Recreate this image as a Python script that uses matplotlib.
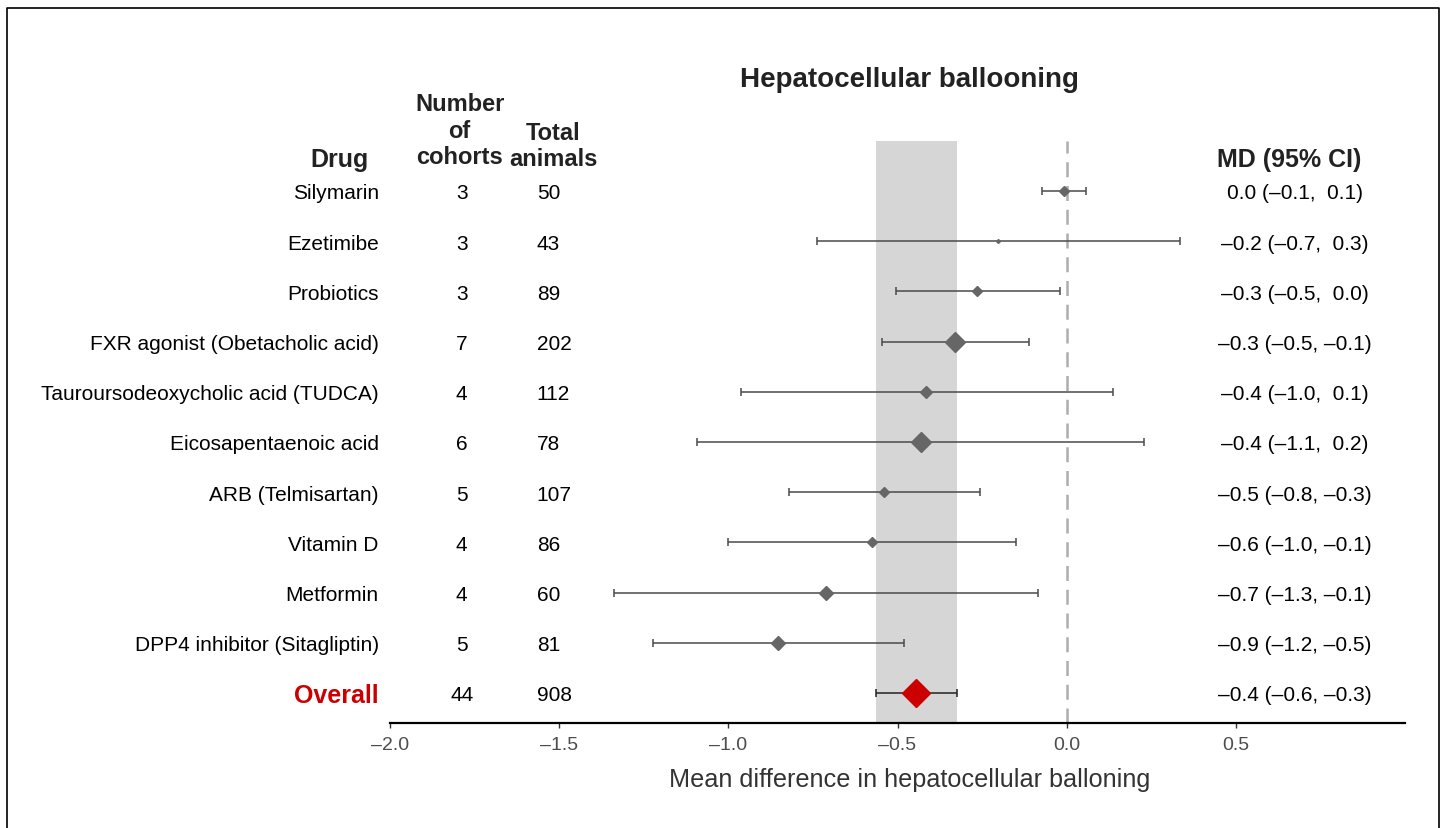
import matplotlib
matplotlib.use("Agg")
import matplotlib.pyplot as plt
from matplotlib.lines import Line2D

plt.rcParams['font.family'] = ['Liberation Sans', 'DejaVu Sans']

# ---------------- data ----------------
drugs = ["Silymarin", "Ezetimibe", "Probiotics", "FXR agonist (Obetacholic acid)",
         "Tauroursodeoxycholic acid (TUDCA)", "Eicosapentaenoic acid",
         "ARB (Telmisartan)", "Vitamin D", "Metformin", "DPP4 inhibitor (Sitagliptin)"]
cohorts = [3, 3, 3, 7, 4, 6, 5, 4, 4, 5]
animals = [50, 43, 89, 202, 112, 78, 107, 86, 60, 81]
md = [-0.007, -0.202, -0.264, -0.329, -0.415, -0.432, -0.540, -0.576, -0.710, -0.853]
ci_lo = [-0.074, -0.739, -0.505, -0.546, -0.962, -1.094, -0.822, -1.001, -1.338, -1.223]
ci_hi = [0.058, 0.334, -0.021, -0.110, 0.137, 0.230, -0.256, -0.149, -0.084, -0.481]
weights = [5.1, 2.0, 5.1, 9.9, 6.6, 9.7, 4.6, 5.6, 7.4, 7.1]
md_labels = ["0.0 (–0.1,  0.1)", "–0.2 (–0.7,  0.3)", "–0.3 (–0.5,  0.0)",
             "–0.3 (–0.5, –0.1)", "–0.4 (–1.0,  0.1)", "–0.4 (–1.1,  0.2)",
             "–0.5 (–0.8, –0.3)", "–0.6 (–1.0, –0.1)", "–0.7 (–1.3, –0.1)",
             "–0.9 (–1.2, –0.5)"]

overall_label = "Overall"
overall_cohorts = 44
overall_animals = 908
overall_md = -0.444
overall_lo = -0.563
overall_hi = -0.325
overall_weight = 14.3
overall_md_label = "–0.4 (–0.6, –0.3)"

xticks = [-2.0, -1.5, -1.0, -0.5, 0.0, 0.5]
xtick_labels = ["–2.0", "–1.5", "–1.0", "–0.5", "0.0", "0.5"]

title = "Hepatocellular ballooning"
xlabel = "Mean difference in hepatocellular balloning"

# ---------------- figure ----------------
W, H = 1445, 829
fig = plt.figure(figsize=(W / 100, H / 100), dpi=100)
ax = fig.add_axes([390 / W, (H - 724) / H, 1015 / W, (724 - 141.8) / H])
ax.set_xlim(-2.0, 1.0)
ax.set_ylim(10.6, -1)

n = len(drugs)
ys = list(range(n))
y_ov = n
TY = 0.04  # small text baseline nudge

# band + null line
ax.axvspan(overall_lo, overall_hi, color='#d6d6d6', lw=0, zorder=0)
ax.axvline(0, color='#adadad', lw=1.8, dashes=(6, 3.5), zorder=1)

# CIs
ax.errorbar(md, ys, xerr=[[m - l for m, l in zip(md, ci_lo)],
                          [h - m for m, h in zip(md, ci_hi)]],
            fmt='none', ecolor='#4a4a4a', elinewidth=1.1, capsize=3, capthick=1.1, zorder=2)
ax.errorbar([overall_md], [y_ov], xerr=[[overall_md - overall_lo], [overall_hi - overall_md]],
            fmt='none', ecolor='#222222', elinewidth=1.1, capsize=3, capthick=1.1, zorder=2)
for m, y, w in zip(md, ys, weights):
    ax.plot([m], [y], marker='D', ms=w, color='#666666', mec='#666666', lw=0, zorder=3)
ax.plot([overall_md], [y_ov], marker='D', ms=overall_weight, color='#cc0000',
        mec='#cc0000', lw=0, zorder=3)

# axes styling
for s in ['top', 'right', 'left']:
    ax.spines[s].set_visible(False)
ax.spines['bottom'].set_linewidth(1.6)
ax.spines['bottom'].set_color('black')
ax.set_yticks([])
ax.set_xticks(xticks)
ax.set_xticklabels(xtick_labels)
ax.tick_params(axis='x', length=3.5, width=1, color='#333333', labelsize=14,
               labelcolor='#4d4d4d', pad=6)
ax.patch.set_alpha(0)

# table text
X_DRUG = -2.033
X_COH = -1.788
X_ANI = -1.566
X_MD = 0.674
for i, (d, c, a, lab) in enumerate(zip(drugs, cohorts, animals, md_labels)):
    ax.text(X_DRUG, i + TY, d, ha='right', va='center', fontsize=15, clip_on=False)
    ax.text(X_COH, i + TY, str(c), ha='center', va='center', fontsize=15, clip_on=False)
    ax.text(X_ANI, i + TY, str(a), ha='left', va='center', fontsize=15, clip_on=False)
    ax.text(X_MD, i + TY, lab, ha='center', va='center', fontsize=15, clip_on=False)

ax.text(X_DRUG, y_ov + TY, overall_label, ha='right', va='center', fontsize=18,
        fontweight='bold', color='#cc0000', clip_on=False)
ax.text(X_COH, y_ov + TY, str(overall_cohorts), ha='center', va='center', fontsize=15, clip_on=False)
ax.text(X_ANI, y_ov + TY, str(overall_animals), ha='left', va='center', fontsize=15, clip_on=False)
ax.text(X_MD, y_ov + TY, overall_md_label, ha='center', va='center', fontsize=15, clip_on=False)

# headers
hdr = dict(fontweight='bold', color='#222222', va='center', clip_on=False)
ax.text(-2.063, -0.64, "Drug", ha='right', fontsize=18, **hdr)
ax.text(-1.794, -1.75, "Number", ha='center', fontsize=17, **hdr)
ax.text(-1.794, -1.21, "of", ha='center', fontsize=17, **hdr)
ax.text(-1.794, -0.68, "cohorts", ha='center', fontsize=17, **hdr)
ax.text(-1.517, -1.16, "Total", ha='center', fontsize=17, **hdr)
ax.text(-1.517, -0.64, "animals", ha='center', fontsize=17, **hdr)
ax.text(0.659, -0.64, "MD (95% CI)", ha='center', fontsize=18, **hdr)

ax.text(-0.464, -2.23, title, ha='center', va='center', fontsize=20,
        fontweight='bold', color='#222222', clip_on=False)
ax.text(-0.464, 11.71, xlabel, ha='center', va='center', fontsize=18.2,
        color='#333333', clip_on=False)

# outer frame
fig.add_artist(Line2D([7 / W, 7 / W, 1439 / W, 1439 / W], [0, (H - 9) / H, (H - 9) / H, 0],
                      transform=fig.transFigure, color='black', lw=1.2))

fig.savefig('out.png', dpi=100)
